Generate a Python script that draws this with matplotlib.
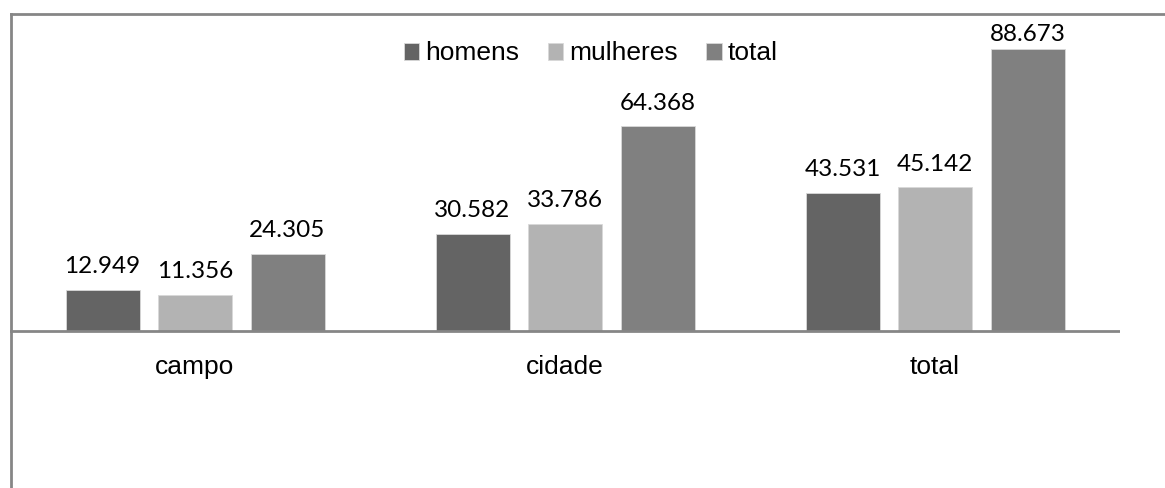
import numpy as np
import matplotlib.pyplot as plt
from matplotlib.lines import Line2D

# dados
categorias = ['campo', 'cidade', 'total']
series = ['homens', 'mulheres', 'total']
homens = [12.949, 30.582, 43.531]
mulheres = [11.356, 33.786, 45.142]
total = [24.305, 64.368, 88.673]
cores = ['#646464', '#b3b3b3', '#808080']

W, H = 1165, 488
fig = plt.figure(figsize=(W / 100, H / 100), dpi=100)
ax = fig.add_axes([10 / W, 0, 1110 / W, 1 - 13 / H])

x = np.arange(len(categorias))
largura = 0.2
rotulos = []
for i, (nome, vals, cor) in enumerate(zip(series, [homens, mulheres, total], cores)):
    barras = ax.bar(x + (i - 1) * 0.25, vals, largura, color=cor, label=nome,
                    edgecolor='#d9d9d9', linewidth=0.6)
    for b, v in zip(barras, vals):
        t = ax.annotate(f'{v:.3f}', (b.get_x() + b.get_width() / 2, v),
                        textcoords='offset points', xytext=(0, 9), ha='center', va='bottom',
                        fontsize=17.5, family='Lato', color='black')
        rotulos.append(t)

ax.set_xlim(-0.5, 2.5)
ax.set_ylim(-49.4, 100)
ax.axhline(0, color='#868686', linewidth=2)
for s in ax.spines.values():
    s.set_visible(False)
ax.set_yticks([])
ax.set_xticks([])

# rótulos das categorias logo abaixo da linha do eixo
for xi, cat in zip(x, categorias):
    ax.annotate(cat, (xi, 0), textcoords='offset points', xytext=(0, -17),
                ha='center', va='top', fontsize=19, family='Liberation Sans')

ax.legend(loc='upper center', bbox_to_anchor=(0.523, 0.99), ncol=3, frameon=False,
          prop={'family': 'Liberation Sans', 'size': 19},
          handlelength=0.6, handleheight=0.6, handletextpad=0.2, columnspacing=1.1)

# rótulo que não cabe em cima é empurrado para baixo (como no Excel)
fig.canvas.draw()
topo = ax.get_window_extent().y1 - 11
for t in rotulos:
    bb = t.get_window_extent()
    if bb.y1 > topo:
        dx, dy = t.xyann
        t.xyann = (dx, dy - (bb.y1 - topo) * 72 / fig.dpi)

# moldura do gráfico (só topo e esquerda visíveis)
fig.add_artist(Line2D([10.5 / W, 10.5 / W], [0, 1 - 13.5 / H], color='#868686', linewidth=2))
fig.add_artist(Line2D([10.5 / W, 1], [1 - 13.5 / H, 1 - 13.5 / H], color='#868686', linewidth=2))

fig.savefig('out.png', dpi=100)
